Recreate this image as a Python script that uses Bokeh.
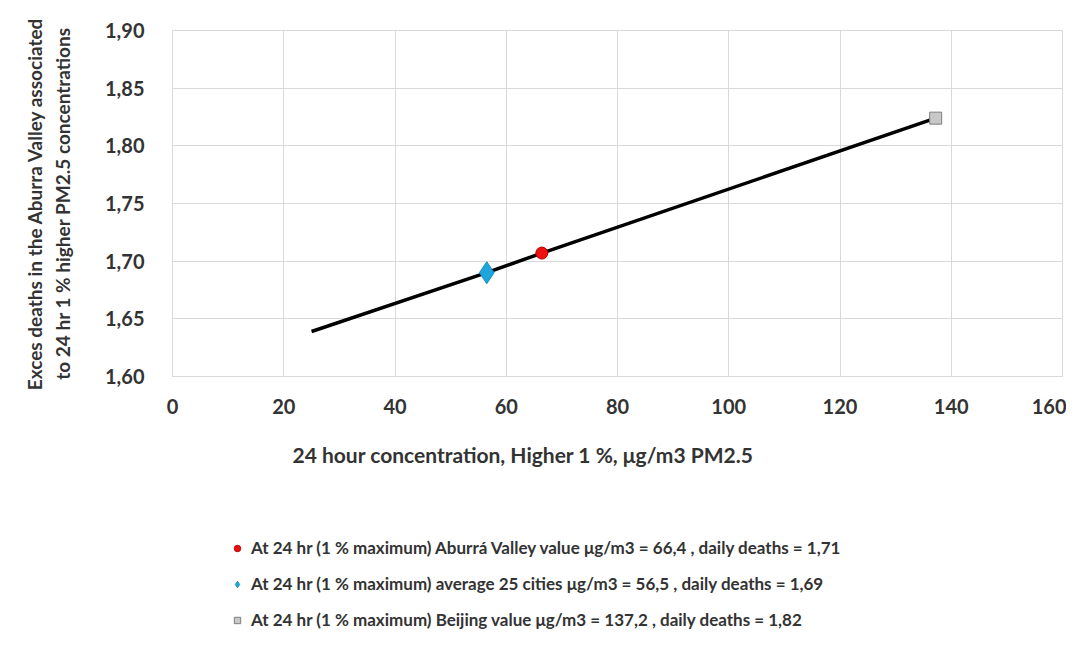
from bokeh.plotting import figure
from bokeh.layouts import column
from bokeh.models import Legend, LegendItem, CustomJSTickFormatter, FixedTicker, Range1d, Title
from bokeh.embed import file_html
from bokeh.resources import INLINE

# Data
line_x = [25.0, 56.5, 66.4, 137.2]
line_y = [1.639, 1.690, 1.707, 1.824]

aburra_x = [66.4]
aburra_y = [1.707]
avg25_x = [56.5]
avg25_y = [1.690]
beijing_x = [137.2]
beijing_y = [1.824]

legend_labels = [
    "At 24 hr (1 % maximum) Aburrá Valley value μg/m3 = 66,4 , daily deaths = 1,71",
    "At 24 hr (1 % maximum) average 25 cities μg/m3 = 56,5 , daily deaths = 1,69",
    "At 24 hr (1 % maximum) Beijing value μg/m3 = 137,2 , daily deaths = 1,82",
]
x_ticks = [0, 20, 40, 60, 80, 100, 120, 140, 160]
y_ticks = [1.60, 1.65, 1.70, 1.75, 1.80, 1.85, 1.90]

FONT = "Lato"
TXT = "#333333"

p = figure(frame_width=890, frame_height=346, min_border_left=172, min_border_top=30,
           min_border_right=4, min_border_bottom=114,
           x_range=Range1d(0, 160), y_range=Range1d(1.60, 1.90),
           output_backend="svg", toolbar_location=None)

p.outline_line_color = "#d9d9d9"
p.xgrid.grid_line_color = "#d9d9d9"
p.ygrid.grid_line_color = "#d9d9d9"
p.xaxis.ticker = FixedTicker(ticks=x_ticks)
p.yaxis.ticker = FixedTicker(ticks=y_ticks)
p.yaxis.formatter = CustomJSTickFormatter(code="return tick.toFixed(2).replace('.', ',');")

for ax in (p.xaxis[0], p.yaxis[0]):
    ax.axis_line_color = None
    ax.major_tick_line_color = None
    ax.minor_tick_line_color = None
    ax.major_label_text_font = FONT
    ax.major_label_text_font_style = "bold"
    ax.major_label_text_font_size = "20px"
    ax.major_label_text_color = TXT
p.xaxis.major_label_standoff = 16
p.yaxis.major_label_standoff = 22

p.yaxis.axis_label = "Exces deaths in the Aburra Valley associated\nto 24 hr 1 % higher PM2.5 concentrations"
p.yaxis.axis_label_text_font = FONT
p.yaxis.axis_label_text_font_style = "bold"
p.yaxis.axis_label_text_font_size = "19px"
p.yaxis.axis_label_text_color = TXT
p.yaxis.axis_label_standoff = 28

p.line(line_x, line_y, line_width=3.5, color="black")
STY = [
    dict(marker="circle", size=12, fill_color="#ee1111", line_color="#b00000"),
    dict(marker="diamond", size=22, fill_color="#1ea5dc", line_color="#1590c0"),
    dict(marker="square", size=12, fill_color="#c8c8c8", line_color="#7f7f7f"),
]
pts = [(aburra_x, aburra_y), (avg25_x, avg25_y), (beijing_x, beijing_y)]
for (xs, ys), s in zip(pts, STY):
    p.scatter(xs, ys, **s)

xt = Title(text="24 hour concentration, Higher 1 %, μg/m3 PM2.5", align="left", offset=120,
           text_font=FONT, text_font_style="bold", text_font_size="21px", text_color=TXT,
           standoff=46)
p.add_layout(xt, "below")

# Legend panel (second figure, no axes); its renderers hold the same points,
# which lie outside this panel's ranges, so only the legend glyphs show.
lg = figure(width=1066, height=150, x_range=Range1d(-1000, -999), y_range=Range1d(-1000, -999),
            x_axis_location=None, y_axis_location=None, min_border=0,
            output_backend="svg", toolbar_location=None)
lg.grid.visible = False
lg.outline_line_color = None
lr = [lg.scatter(xs, ys, **s) for (xs, ys), s in zip(pts, STY)]

legend = Legend(items=[LegendItem(label=legend_labels[i], renderers=[lr[i]]) for i in range(3)],
                location=(57, 10), padding=0, margin=0, spacing=15,
                label_height=20, glyph_height=20, glyph_width=16, label_standoff=6,
                border_line_color=None, background_fill_alpha=0,
                label_text_font=FONT, label_text_font_style="bold",
                label_text_font_size="17px", label_text_color=TXT)
lg.add_layout(legend, "center")

open("out.html", "w").write(file_html(column(p, lg, spacing=0), INLINE))
